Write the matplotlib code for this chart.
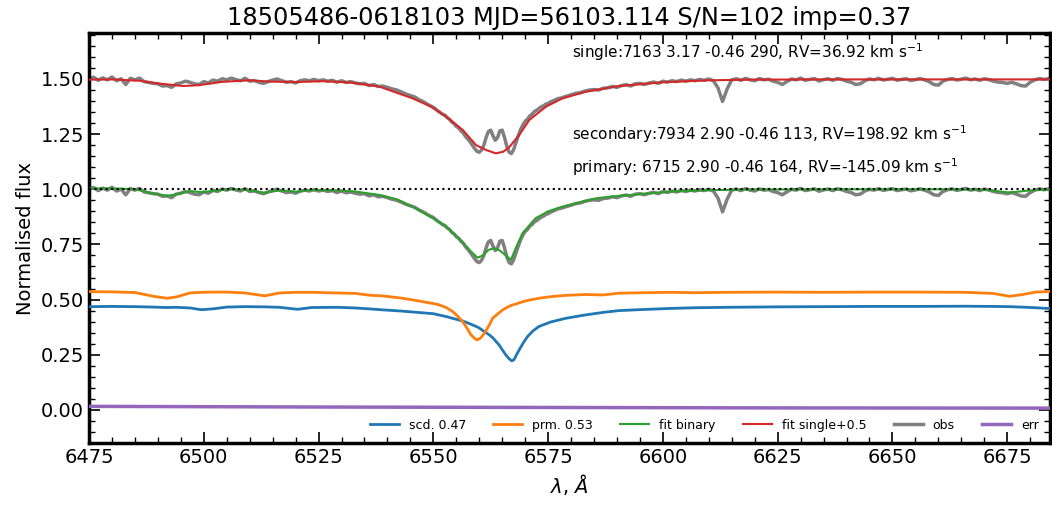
import numpy as np
import matplotlib
matplotlib.use("Agg")
import matplotlib.pyplot as plt
from matplotlib.ticker import MultipleLocator

title = "18505486-0618103 MJD=56103.114 S/N=102 imp=0.37"
txt_single = r"single:7163 3.17 -0.46 290, RV=36.92 km s$^{-1}$"
txt_secondary = r"secondary:7934 2.90 -0.46 113, RV=198.92 km s$^{-1}$"
txt_primary = r"primary: 6715 2.90 -0.46 164, RV=-145.09 km s$^{-1}$"

# model grid for the two components
wl_mod = [6475, 6480, 6485, 6489, 6492, 6494, 6497, 6499.5, 6502, 6505, 6509, 6513.3,
          6516.5, 6520.4, 6523.5, 6529, 6533, 6536, 6539.3, 6543, 6546.5, 6550,
          6551.3, 6552.8, 6554.2, 6555.3, 6556.4, 6557.3, 6558.2, 6559.0, 6559.6,
          6560.3, 6561.1, 6562.2, 6562.9, 6564.3, 6565.1, 6565.8, 6566.5, 6567.1,
          6567.6, 6568.0, 6568.7, 6569.6, 6570.5, 6571.7, 6573.0, 6575.5, 6578.8,
          6581, 6583.0, 6587, 6590.4, 6595.6, 6601.8, 6607, 6614, 6624.5, 6635,
          6645, 6655, 6665.7, 6671.9, 6675.5, 6678.1, 6681.2, 6684.5]
scd = [0.468, 0.469, 0.468, 0.466, 0.464, 0.465, 0.462, 0.454, 0.458, 0.466, 0.468, 0.467,
       0.465, 0.456, 0.464, 0.465, 0.462, 0.458, 0.453, 0.448, 0.442, 0.436,
       0.430, 0.423, 0.415, 0.409, 0.403, 0.396, 0.388, 0.381, 0.376,
       0.367, 0.355, 0.340, 0.328, 0.295, 0.270, 0.249, 0.232, 0.222,
       0.228, 0.245, 0.272, 0.304, 0.332, 0.358, 0.378, 0.398, 0.415,
       0.423, 0.430, 0.442, 0.450, 0.455, 0.460, 0.463, 0.465, 0.467, 0.468,
       0.469, 0.469, 0.470, 0.469, 0.468, 0.466, 0.463, 0.459]
prm = [0.536, 0.535, 0.532, 0.515, 0.506, 0.512, 0.530, 0.533, 0.534, 0.534, 0.530, 0.517,
       0.530, 0.533, 0.533, 0.530, 0.528, 0.520, 0.516, 0.507, 0.495, 0.482,
       0.476, 0.464, 0.446, 0.425, 0.400, 0.372, 0.340, 0.324, 0.317,
       0.326, 0.347, 0.385, 0.415, 0.440, 0.453, 0.462, 0.469, 0.475,
       0.478, 0.480, 0.485, 0.491, 0.496, 0.501, 0.506, 0.513, 0.519,
       0.521, 0.523, 0.521, 0.529, 0.531, 0.533, 0.531, 0.533, 0.534, 0.533,
       0.534, 0.534, 0.533, 0.528, 0.515, 0.522, 0.534, 0.537]

# binary fit
wl_bin = [6475, 6480, 6485, 6489, 6492, 6494, 6497, 6499.5, 6502, 6505,
          6509, 6513.3, 6516.5, 6520.4, 6523.5, 6529, 6533, 6538.3, 6542, 6545.5,
          6549, 6552.8, 6556.3, 6558.0, 6559.6, 6560.8, 6562.0, 6563.3, 6564.5, 6565.8,
          6566.9, 6568.0, 6569.4, 6572.3, 6575, 6578.1, 6585.4, 6590.4, 6596, 6602,
          6610, 6620, 6640, 6660, 6670, 6675.5, 6680, 6684.5]
binary = [1.004, 1.004, 1.000, 0.981, 0.970, 0.977, 0.992, 0.987, 0.992, 1.000,
          0.998, 0.984, 0.995, 0.989, 0.997, 0.995, 0.990, 0.974, 0.955, 0.921,
          0.880, 0.831, 0.763, 0.722, 0.690, 0.700, 0.725, 0.733, 0.722, 0.700,
          0.680, 0.735, 0.800, 0.869, 0.900, 0.921, 0.959, 0.970, 0.980, 0.990,
          0.996, 0.999, 1.000, 1.000, 0.998, 0.985, 0.995, 1.000]

# single-star fit (already shifted by +0.5)
wl_single = [6475, 6480, 6486, 6490, 6495.5, 6499, 6504, 6510, 6514.5, 6520, 6526,
             6532, 6538.3, 6545.5, 6549.5, 6552.8, 6556.4, 6559.3, 6561.5, 6563.6,
             6565.2, 6566.5, 6568.7, 6570.9, 6574.5, 6578.1, 6583.2, 6590.4, 6600,
             6610, 6620, 6640, 6660, 6684.5]
single = [1.497, 1.498, 1.492, 1.480, 1.468, 1.472, 1.487, 1.494, 1.488, 1.486, 1.490,
          1.484, 1.465, 1.412, 1.375, 1.329, 1.269, 1.200, 1.178, 1.163,
          1.170, 1.190, 1.246, 1.314, 1.374, 1.412, 1.442, 1.468, 1.485,
          1.494, 1.497, 1.498, 1.498, 1.498]

# observed spectrum: 1 A steps in the wings, 0.5 A in the core
wl_obs = np.concatenate([np.arange(6475, 6552, 1.0),
                         np.arange(6551.5, 6576, 0.5),
                         np.arange(6576, 6685, 1.0)])
obs = [1.000, 1.008, 0.994, 1.005, 0.996, 1.009, 0.992, 1.001, 0.975, 1.003,
       0.996, 1.004, 0.988, 0.984, 0.980, 0.978, 0.968, 0.970, 0.962, 0.978,
       0.982, 0.990, 0.985, 0.978, 0.975, 0.988, 0.982, 0.995, 0.990, 1.001,
       0.996, 1.004, 0.997, 0.992, 1.003, 0.990, 0.993, 0.985, 0.980, 0.988,
       0.995, 1.000, 0.992, 0.985, 0.988, 0.982, 0.992, 0.996, 0.992, 0.998,
       0.992, 0.996, 0.990, 0.994, 0.985, 0.992, 0.984, 0.988, 0.982, 0.978,
       0.980, 0.970, 0.975, 0.966, 0.968, 0.962, 0.955, 0.950, 0.942, 0.932,
       0.925, 0.918, 0.905, 0.895, 0.882, 0.872, 0.855,
       # core
       0.848, 0.840, 0.836, 0.825, 0.818, 0.805, 0.798, 0.785, 0.778, 0.765,
       0.755, 0.740, 0.728, 0.715, 0.700, 0.685, 0.672, 0.668, 0.678, 0.700,
       0.735, 0.762, 0.768, 0.742, 0.722, 0.735, 0.765, 0.768, 0.735, 0.695,
       0.668, 0.662, 0.680, 0.712, 0.742, 0.770, 0.792, 0.808, 0.818, 0.832,
       0.840, 0.852, 0.858, 0.866, 0.874, 0.878, 0.886, 0.889, 0.896,
       # red wing
       0.900, 0.910, 0.915, 0.922, 0.928, 0.935, 0.938, 0.945, 0.950, 0.952,
       0.950, 0.958, 0.960, 0.966, 0.962, 0.970, 0.974, 0.968, 0.978, 0.980,
       0.975, 0.982, 0.986, 0.980, 0.990, 0.986, 0.992, 0.988, 0.995, 0.990,
       0.996, 0.992, 0.998, 0.994, 1.000, 0.992, 0.960, 0.898, 0.955, 0.996,
       1.001, 0.994, 1.003, 0.996, 0.992, 1.002, 0.996, 0.999, 0.990, 0.985,
       0.975, 0.988, 1.000, 0.996, 1.004, 0.994, 0.998, 1.002, 0.991, 0.997,
       1.001, 0.994, 1.002, 0.998, 0.990, 0.985, 0.975, 0.978, 0.992, 1.000,
       0.996, 1.003, 0.995, 0.999, 1.003, 0.994, 0.998, 1.001, 0.993, 0.997,
       1.002, 0.996, 0.988, 0.975, 0.972, 0.990, 0.998, 1.002, 0.995, 0.999,
       1.004, 0.996, 1.000, 0.994, 1.001, 0.997, 0.990, 0.986, 0.984, 0.980,
       0.985, 0.978, 0.970, 0.968, 0.985, 0.996, 1.002, 0.998, 1.001]

wl_err = [6475, 6525, 6575, 6625, 6684.5]
err = [0.016, 0.013, 0.011, 0.009, 0.008]

offset = 0.5


fig = plt.figure(figsize=(10.52, 5.09), dpi=100)
ax = fig.add_axes([0.0846, 0.1297, 0.9134, 0.8053])

ax.plot(wl_mod, scd, color="tab:blue", lw=2, label="scd. 0.47", zorder=3)
ax.plot(wl_mod, prm, color="tab:orange", lw=2, label="prm. 0.53", zorder=3)
ax.plot(wl_bin, binary, color="tab:green", lw=1.5, label="fit binary", zorder=4)
ax.plot(wl_single, single, color="tab:red", lw=1.5, label="fit single+0.5", zorder=4)
ax.plot(wl_obs, obs, color="gray", lw=2.5, label="obs", zorder=2)
ax.plot(wl_obs, np.array(obs) + offset, color="gray", lw=2.5, zorder=2)
ax.plot(wl_err, err, color="tab:purple", lw=2.5, label="err", zorder=3)
ax.axhline(1.0, color="black", ls=":", lw=1.5, zorder=5)

ax.text(6580.2, 1.622, txt_single, fontsize=11, va="center")
ax.text(6580.2, 1.25, txt_secondary, fontsize=11, va="center")
ax.text(6580.2, 1.10, txt_primary, fontsize=11, va="center")

ax.set_xlim(6475, 6684.3)
ax.set_ylim(-0.15, 1.708)
ax.xaxis.set_major_locator(MultipleLocator(25))
ax.xaxis.set_minor_locator(MultipleLocator(5))
ax.yaxis.set_major_locator(MultipleLocator(0.25))
ax.yaxis.set_minor_locator(MultipleLocator(0.05))
ax.tick_params(which="both", direction="in", top=True, right=True, labelsize=14)
ax.tick_params(which="major", length=8, width=1.2)
ax.tick_params(which="minor", length=4, width=1)
for s in ax.spines.values():
    s.set_linewidth(2.5)

ax.set_title(title, fontsize=17.3)
ax.set_xlabel(r"$\lambda$, $\AA$", fontsize=14)
ax.set_ylabel("Normalised flux", fontsize=14)
ax.legend(loc="lower right", ncol=6, fontsize=9, frameon=False, borderaxespad=0.5,
          handlelength=2.3, columnspacing=2.2)

fig.savefig("out.png", dpi=100)
